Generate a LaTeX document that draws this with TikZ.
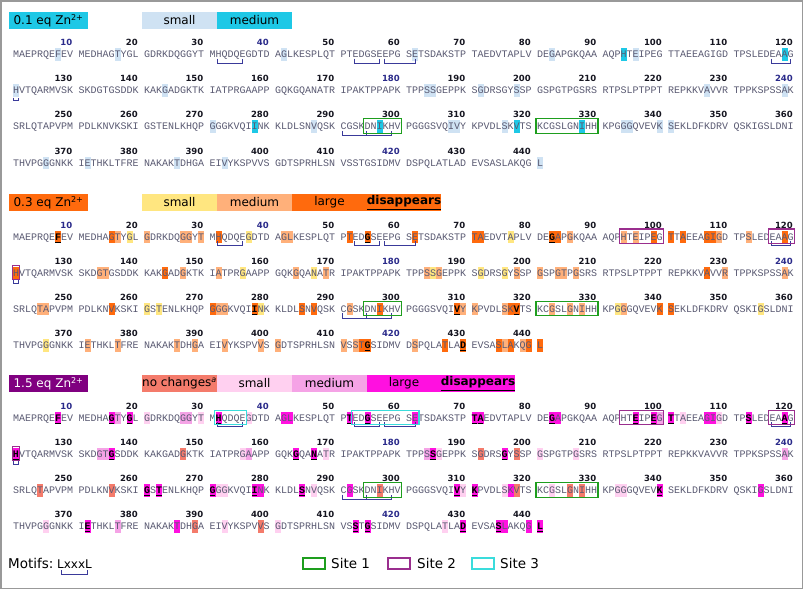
\documentclass[tikz,border=0pt]{standalone}
\usepackage{fontspec}
\setmainfont{DejaVu Sans}
\newfontfamily\seqfont{Liberation Mono}
\definecolor{seqgray}{HTML}{5A5A72}
\definecolor{numblack}{HTML}{151520}
\definecolor{numnavy}{HTML}{2A2A8A}
\definecolor{pAs}{HTML}{CFE2F3}
\definecolor{pAm}{HTML}{1EC8E6}
\definecolor{pBy}{HTML}{FFE680}
\definecolor{pBo}{HTML}{FFB07A}
\definecolor{pBr}{HTML}{FF6A0D}
\definecolor{pCn}{HTML}{F47B6B}
\definecolor{pCs}{HTML}{FFD0F0}
\definecolor{pCm}{HTML}{F5A3E6}
\definecolor{pCl}{HTML}{FF10E0}
\definecolor{pCh}{HTML}{800080}
\definecolor{siteA}{HTML}{1E9E1E}
\definecolor{siteB}{HTML}{9A2E8E}
\definecolor{siteC}{HTML}{3ADCDC}
\definecolor{motif}{HTML}{3A3A9A}
\newcommand\myPY[1]{\ifcase#1\or54\or236.5\or417.7\fi}
\newcommand\resxy[2]{%
 \pgfmathtruncatemacro\myR{div(#1-1,120)}%
 \pgfmathtruncatemacro\myK{mod(#1-1,120)}%
 \pgfmathtruncatemacro\myB{div(\myK,10)}%
 \pgfmathtruncatemacro\myI{mod(\myK,10)}%
 \pgfmathsetmacro\rX{13+\myB*65.5+\myI*6}%
 \pgfmathsetmacro\rY{\myPY{#2}+\myR*36.2}}
\newcommand\hls[3]{\foreach \n in {#3}{\resxy{\n}{#1}\fill[#2] (\rX,\rY-6) rectangle (\rX+6,\rY+6.5);}}
\newcommand\dis[3]{\foreach \n/\l in {#3}{\resxy{\n}{#1}\fill[#2] (\rX,\rY-6) rectangle (\rX+6,\rY+6.5);
  \node[disl, anchor=base] (d#1-\n) at (\rX+3,\rY+3.5) {\l};
  \draw[line width=0.8pt] (\rX+0.4,\rY+5.4) -- (\rX+5.6,\rY+5.4);}}
\newcommand\sitebox[4]{\resxy{#2}{#1}\edef\xa{\rX}\edef\ya{\rY}\resxy{#3}{#1}%
  \draw[#4, line width=1.1pt] (\xa-1,\ya-7.5) rectangle (\rX+7,\rY+7);}
\newcommand\mbr[3]{\resxy{#2}{#1}\edef\xa{\rX}\resxy{#3}{#1}%
  \draw[motif, line width=0.8pt] (\xa+2,\rY+4.5) -- (\xa+2,\rY+9) -- (\rX+3,\rY+9) -- (\rX+3,\rY+4.5);}
\tikzset{
 seq/.style={font=\seqfont\fontsize{10}{12}\selectfont, text=seqgray, inner sep=0pt},
 disl/.style={font=\seqfont\bfseries\fontsize{10}{12}\selectfont, text=black, inner sep=0pt},
 num/.style={font=\bfseries\fontsize{8.5}{10}\selectfont, inner sep=0pt, text=numblack},
 hdr/.style={font=\fontsize{12}{14}\selectfont, inner sep=0pt},
 lgd/.style={font=\fontsize{13.5}{15}\selectfont, inner sep=0pt, anchor=base west},
}
\begin{document}
\begin{tikzpicture}[x=1pt,y=-1pt]
\useasboundingbox (0,0) rectangle (803,589);
\fill[white] (0,0) rectangle (803,589);
\draw[gray!80, line width=1.5pt] (0.75,0.75) rectangle (802.25,588.25);
% ---------- highlights panel 1
\hls{1}{pAs}{8,17,42,62,83,96,121,144,184,185,192,198,227,239,271,287,308,309,316,334,335,340,341,366,372,386,393,441}
\hls{1}{pAm}{94,119,278,297,318,328}
% ---------- panel 2
\hls{2}{pBy}{19,37,77,156,167,185,192,196,261,263,279,333,355,366}
\hls{2}{pBo}{17,21,27,28,30,42,43,86,94,96,109,113,134,135,147,152,164,169,184,186,198,201,204,205,207,230,239,245,246,272,273,292,310,311,316,323,326,328,334,372,377,386,389,393,399,401,411,413,422,436,439}
\hls{2}{pBr}{16,32,52,62,71,72,84,99,101,103,107,108,119,121,144,227,256,271,285,287,297,317,340,341,414,427,435,437,440,441}
% ---------- panel 3
\hls{3}{pCn}{147,192,198,245,256,297,318,326,328,389,399}
\hls{3}{pCs}{21,30,37,103,109,156,169,186,201,207,272,273,287,310,316,323,333,334,366,393,401,427}
\hls{3}{pCm}{17,27,28,100,134,135,157,184,239,377}
\hls{3}{pCl}{42,43,62,84,107,108,279,292,317,355,386,436,440}
% ---------- sequences and numbers
\foreach \p in {1,2,3}{
 \foreach \blk [count=\c] in {MAEPRQEFEV,MEDHAGTYGL,GDRKDQGGYT,MHQDQEGDTD,AGLKESPLQT,PTEDGSEEPG,SETSDAKSTP,TAEDVTAPLV,DEGAPGKQAA,AQPHTEIPEG,TTAEEAGIGD,TPSLEDEAAG,
  HVTQARMVSK,SKDGTGSDDK,KAKGADGKTK,IATPRGAAPP,GQKGQANATR,IPAKTPPAPK,TPPSSGEPPK,SGDRSGYSSP,GSPGTPGSRS,RTPSLPTPPT,REPKKVAVVR,TPPKSPSSAK,
  SRLQTAPVPM,PDLKNVKSKI,GSTENLKHQP,GGGKVQIINK,KLDLSNVQSK,CGSKDNIKHV,PGGGSVQIVY,KPVDLSKVTS,KCGSLGNIHH,KPGGGQVEVK,SEKLDFKDRV,QSKIGSLDNI,
  THVPGGGNKK,IETHKLTFRE,NAKAKTDHGA,EIVYKSPVVS,GDTSPRHLSN,VSSTGSIDMV,DSPQLATLAD,EVSASLAKQG,L}{
  \pgfmathtruncatemacro\rw{div(\c-1,12)}
  \pgfmathtruncatemacro\bk{mod(\c-1,12)}
  \pgfmathsetmacro\bx{13+\bk*65.5}
  \pgfmathsetmacro\by{\myPY{\p}+\rw*36.2}
  \node[seq, anchor=base west] (s\p-\c) at (\bx,\by+3.5) {\blk};
  \ifnum\c<45
   \pgfmathtruncatemacro\lab{\c*10}
   \ifnum\lab=10 \def\nc{numnavy}\else\ifnum\lab=40 \def\nc{numnavy}\else\ifnum\lab=180 \def\nc{numnavy}\else\ifnum\lab=240 \def\nc{numnavy}\else\ifnum\lab=420 \def\nc{numnavy}\else\def\nc{numblack}\fi\fi\fi\fi\fi
   \node[num, text=\nc, anchor=base east] (n\p-\c) at (\bx+59.5,\by-8.5) {\lab};
  \fi
 }
}
% ---------- disappearing residues
\dis{2}{pBr}{8/F,55/G,83/G,278/I,309/V,318/V,415/G,430/D}
\dis{3}{pCl}{8/F,16/G,19/G,32/H,52/T,55/G,71/T,72/A,83/G,96/E,99/E,101/T,113/S,119/A,121/H,136/G,164/G,167/N,185/S,196/G,261/G,263/T,271/G,278/I,285/S,309/V,311/K,340/K,372/E,413/S,415/G,430/D,435/S,441/L}
% ---------- motifs
\foreach \p in {1,2,3}{
 \mbr{\p}{32}{36}
 \mbr{\p}{53}{57}
 \mbr{\p}{58}{62}
 \mbr{\p}{117}{120}
 \resxy{121}{\p}
 \draw[motif, line width=0.8pt] (\rX+0.8,\rY+7.5) -- (\rX+0.8,\rY+10.5) -- (\rX+5,\rY+10.5) -- (\rX+5,\rY+7.5);
 \mbr{\p}{291}{299}
 \resxy{295}{\p}
 \draw[motif, line width=0.8pt] (\rX+2,\rY+4.5) -- (\rX+2,\rY+9);
 \sitebox{\p}{295}{300}{siteA}
 \sitebox{\p}{321}{330}{siteA}
}
\foreach \p in {2,3}{
 \sitebox{\p}{94}{100}{siteB}
 \sitebox{\p}{117}{120}{siteB}
 \resxy{121}{\p}
 \draw[siteB, line width=1.1pt] (\rX-0.5,\rY-7) rectangle (\rX+6.5,\rY+6.5);
}
\sitebox{3}{32}{36}{siteC}
\sitebox{3}{53}{62}{siteC}
% ---------- headers
% panel 1
\fill[pAm] (9,12) rectangle (88,29);
\node[hdr] (h1) at (48.5,20.5) {0.1 eq Zn\textsuperscript{2+}};
\fill[pAs] (142,12) rectangle (217,29);
\fill[pAm] (217,12) rectangle (292,29);
\node[hdr] (h1s) at (179.5,20.5) {small};
\node[hdr] (h1m) at (254.5,20.5) {medium};
% panel 2
\fill[pBr] (9,194) rectangle (88,211);
\node[hdr] (h2) at (48.5,202.5) {0.3 eq Zn\textsuperscript{2+}};
\fill[pBy] (142,194) rectangle (217,211);
\fill[pBo] (217,194) rectangle (292,211);
\fill[pBr] (292,194) rectangle (441,211);
\node[hdr] (h2s) at (179.5,202.5) {small};
\node[hdr] (h2m) at (254.5,202.5) {medium};
\node[hdr] (h2l) at (329.5,202.5) {large};
\node[hdr] (h2d) at (404,202.5) {\bfseries\underline{disappears}};
% panel 3
\fill[pCh] (9,375) rectangle (88,392);
\node[hdr, text=white] (h3) at (48.5,383.5) {1.5 eq Zn\textsuperscript{2+}};
\fill[pCn] (142,375) rectangle (217,392);
\fill[pCs] (217,375) rectangle (292,392);
\fill[pCm] (292,375) rectangle (367,392);
\fill[pCl] (367,375) rectangle (515,392);
\node[hdr] (h3n) at (179.5,383.5) {no changes\textsuperscript{\itshape a}};
\node[hdr] (h3s) at (254.5,383.5) {small};
\node[hdr] (h3m) at (329.5,383.5) {medium};
\node[hdr] (h3l) at (404,383.5) {large};
\node[hdr] (h3d) at (478,383.5) {\bfseries\underline{disappears}};
% ---------- bottom legend
\node[lgd] (mot) at (8,568) {Motifs:};
\node[lgd, font=\fontsize{12}{14}\selectfont] (lx) at (57,568) {LxxxL};
\draw[motif, line width=0.8pt] (61,570) -- (61,574.5) -- (87,574.5) -- (87,570);
\draw[siteA, line width=1.1pt] (303,558) rectangle (325,569);
\node[lgd] (s1) at (331,568) {Site 1};
\draw[siteB, line width=1.1pt] (388,558) rectangle (410,569);
\node[lgd] (s2) at (417,568) {Site 2};
\draw[siteC, line width=1.1pt] (472,558) rectangle (494,569);
\node[lgd] (s3) at (500,568) {Site 3};
\end{tikzpicture}
\end{document}
